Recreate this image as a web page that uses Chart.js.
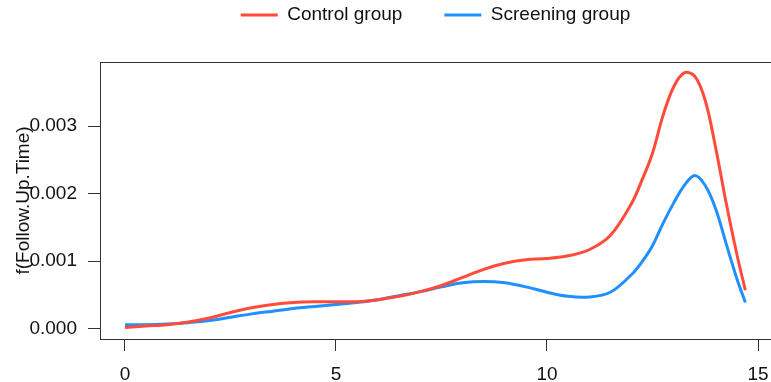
<!DOCTYPE html>
<html>
<head>
<meta charset="utf-8">
<script src="https://cdn.jsdelivr.net/npm/chart.js@4/dist/chart.umd.min.js"></script>
<style>
  html, body { margin: 0; padding: 0; background: #fff; }
  canvas { display: block; }
</style>
</head>
<body>
<canvas id="densityChart" width="771" height="382"></canvas>
<script>
const followUpYears = [0, 0.5, 1, 1.5, 2, 2.5, 3, 3.5, 4, 4.5, 5, 5.5, 6, 6.5, 7, 7.5, 8, 8.5, 9, 9.5,
    10, 10.5, 11, 11.5, 12, 12.25, 12.5, 12.75, 13, 13.25, 13.5, 13.75, 14, 14.25, 14.5, 14.7];

// Estimated density values
const controlDensity = [0.00002, 0.00004, 0.00006, 0.0001, 0.00016, 0.00024, 0.00031, 0.00036, 0.00039, 0.0004,
    0.0004, 0.0004, 0.00043, 0.00048, 0.00055, 0.00064, 0.00076, 0.00088, 0.00097, 0.00102,
    0.00104, 0.00108, 0.00117, 0.00138, 0.00185, 0.0022, 0.0026, 0.00316, 0.00358, 0.00379,
    0.00374, 0.00338, 0.00267, 0.00185, 0.0011, 0.00057];
const screeningDensity = [0.00006, 0.00006, 0.00007, 0.00009, 0.00012, 0.00017, 0.00022, 0.00026, 0.0003, 0.00033,
    0.00036, 0.00039, 0.00043, 0.00049, 0.00055, 0.00062, 0.00068, 0.0007, 0.00068, 0.00062,
    0.00054, 0.00048, 0.00047, 0.00054, 0.0008, 0.00099, 0.00123, 0.00156, 0.00186, 0.00212,
    0.00227, 0.00212, 0.00177, 0.00125, 0.00074, 0.00039];

const seriesNames = ['Control group', 'Screening group'];
const yAxisTitle = 'f(Follow.Up.Time)';

const FONT = 'Liberation Sans, Arial, Helvetica, sans-serif';
const AXIS = '#333';
const TEXT = '#111';

function toPoints(ys) {
    return followUpYears.map((x, i) => ({ x: x, y: ys[i] }));
}

const ctx = document.getElementById('densityChart').getContext('2d');

const chart = new Chart(ctx, {
    type: 'line',
    data: {
        datasets: [{
            label: seriesNames[0],
            data: toPoints(controlDensity),
            borderColor: '#FF4B3A',
            backgroundColor: '#FF4B3A',
            borderWidth: 3,
            pointRadius: 0,
            tension: 0.35,
            fill: false,
        }, {
            label: seriesNames[1],
            data: toPoints(screeningDensity),
            borderColor: '#1E90FF',
            backgroundColor: '#1E90FF',
            borderWidth: 3,
            pointRadius: 0,
            tension: 0.35,
            fill: false,
        }],
    },
    options: {
        responsive: false,
        animation: false,
        devicePixelRatio: 1,
        layout: { padding: { top: -36.5, left: 0, right: 0, bottom: 0 } },
        plugins: {
            tooltip: { enabled: false },
            legend: {
                position: 'top',
                fullSize: false,
                labels: {
                    boxWidth: 37,
                    boxHeight: 3,
                    padding: 42,
                    color: TEXT,
                    font: { family: FONT, size: 19 },
                    generateLabels(c) {
                        return Chart.defaults.plugins.legend.labels.generateLabels(c).map(item => {
                            item.fillStyle = item.strokeStyle;
                            item.lineWidth = 0;
                            return item;
                        });
                    },
                },
            },
        },
        scales: {
            x: {
                type: 'linear',
                position: 'bottom',
                min: -0.592,
                max: 15.308,
                afterFit(scale) {
                    scale.height = 43;
                    scale.paddingLeft = 0;
                    scale.paddingRight = 0;
                },
                ticks: {
                    stepSize: 5,
                    includeBounds: false,
                    padding: 12,
                    color: TEXT,
                    font: { family: FONT, size: 19 },
                    maxRotation: 0,
                },
                grid: { drawOnChartArea: false, drawTicks: true, tickLength: 12, color: AXIS },
                border: { display: true, color: AXIS, width: 1 },
            },
            x2: {
                type: 'linear',
                position: 'top',
                afterFit(scale) { scale.height = 27.5; },
                ticks: { display: false },
                grid: { display: false },
                border: { display: true, color: AXIS, width: 1 },
            },
            y: {
                type: 'linear',
                position: 'left',
                min: -0.000152,
                max: 0.00395,
                afterFit(scale) { scale.width = 100; },
                ticks: {
                    stepSize: 0.001,
                    includeBounds: false,
                    padding: 11,
                    color: TEXT,
                    font: { family: FONT, size: 19 },
                    callback: v => v.toFixed(3),
                },
                grid: { drawOnChartArea: false, drawTicks: true, tickLength: 12, color: AXIS },
                border: { display: true, color: AXIS, width: 1 },
                title: {
                    display: true,
                    text: yAxisTitle,
                    color: TEXT,
                    font: { family: FONT, size: 19 },
                    padding: { top: 12, bottom: 0 },
                },
            },
        },
    },
});
</script>
</body>
</html>
